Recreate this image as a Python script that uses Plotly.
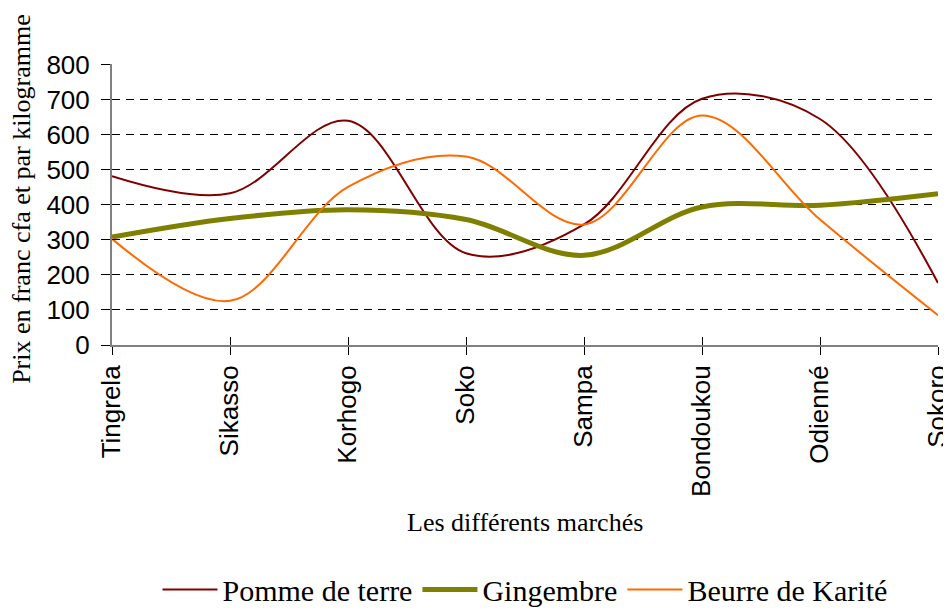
import plotly.graph_objects as go

categories = ["Tingrela", "Sikasso", "Korhogo", "Soko", "Sampa", "Bondoukou", "Odienné", "Sokoro"]
pomme_de_terre = [482, 433, 640, 262, 344, 703, 645, 177]
gingembre = [308, 361, 386, 358, 256, 394, 399, 432]
beurre_karite = [303, 126, 451, 538, 344, 655, 358, 85]
y_ticks = [0, 100, 200, 300, 400, 500, 600, 700, 800]

x_title = "Les différents marchés"
y_title = "Prix en franc cfa et par kilogramme"

SERIF = "Liberation Serif, Times New Roman, serif"
SANS = "Liberation Sans, Arial, sans-serif"

fig = go.Figure()
series = [
    ("Pomme de terre", pomme_de_terre, "#800000", 2),
    ("Gingembre", gingembre, "#808000", 5),
    ("Beurre de Karité", beurre_karite, "#FF6A00", 2),
]
for name, vals, color, w in series:
    fig.add_trace(go.Scatter(
        x=categories, y=vals, name=name, mode="lines",
        line=dict(color=color, width=w, shape="spline", smoothing=1),
        hoverinfo="skip",
    ))

# invisible trace to carry the overlay axes (inside half of the crossing ticks)
fig.add_trace(go.Scatter(x=[None], y=[None], xaxis="x2", yaxis="y2",
                         showlegend=False, hoverinfo="skip"))

Y_RANGE = [0, 802]

# the page body has an 8px margin, so the figure is 8px smaller than the window
fig.update_layout(
    width=943, height=602,
    margin=dict(l=104, r=13, t=56, b=265, autoexpand=False),
    paper_bgcolor="white", plot_bgcolor="white",
    showlegend=True,
    xaxis=dict(
        type="category", range=[0, len(categories) - 1], automargin=False,
        tickangle=-90, tickfont=dict(family=SANS, size=26, color="black"),
        ticks="outside", ticklen=8, tickcolor="black", tickwidth=1,
        showline=True, linecolor="#808080", linewidth=2,
        showgrid=False, zeroline=False, fixedrange=True,
    ),
    yaxis=dict(
        range=Y_RANGE, tickvals=y_ticks, automargin=False,
        tickfont=dict(family=SANS, size=26, color="black"),
        ticks="outside", ticklen=9, tickcolor="black", tickwidth=1,
        ticklabelstandoff=6,
        showline=True, linecolor="#808080", linewidth=2,
        showgrid=True, gridcolor="black", gridwidth=1, griddash="8px,6px",
        zeroline=False, fixedrange=True,
    ),
    xaxis2=dict(
        overlaying="x", anchor="y2", range=[0, len(categories) - 1],
        tickvals=list(range(len(categories))), showticklabels=False,
        ticks="inside", ticklen=8, tickcolor="black", tickwidth=1,
        showline=False, showgrid=False, zeroline=False, side="bottom",
        automargin=False,
    ),
    yaxis2=dict(
        overlaying="y", anchor="x2", range=Y_RANGE, tickvals=y_ticks,
        showticklabels=False, ticks="inside", ticklen=4, tickcolor="black",
        tickwidth=1, showline=False, showgrid=False, zeroline=False,
        automargin=False,
    ),
    legend=dict(
        orientation="h", x=0.5, xanchor="center", y=-0.87, yanchor="middle",
        font=dict(family=SERIF, size=30, color="black"),
        itemwidth=55, bgcolor="rgba(0,0,0,0)",
    ),
    annotations=[
        dict(text=x_title, xref="paper", yref="paper", x=0.5, y=-0.63,
             xanchor="center", yanchor="middle", showarrow=False,
             font=dict(family=SERIF, size=26, color="black")),
        dict(text=y_title, xref="paper", yref="paper", x=-0.109, y=0.52,
             xanchor="center", yanchor="middle", showarrow=False, textangle=-90,
             font=dict(family=SERIF, size=26, color="black")),
    ],
)

fig.write_html("out.html")
